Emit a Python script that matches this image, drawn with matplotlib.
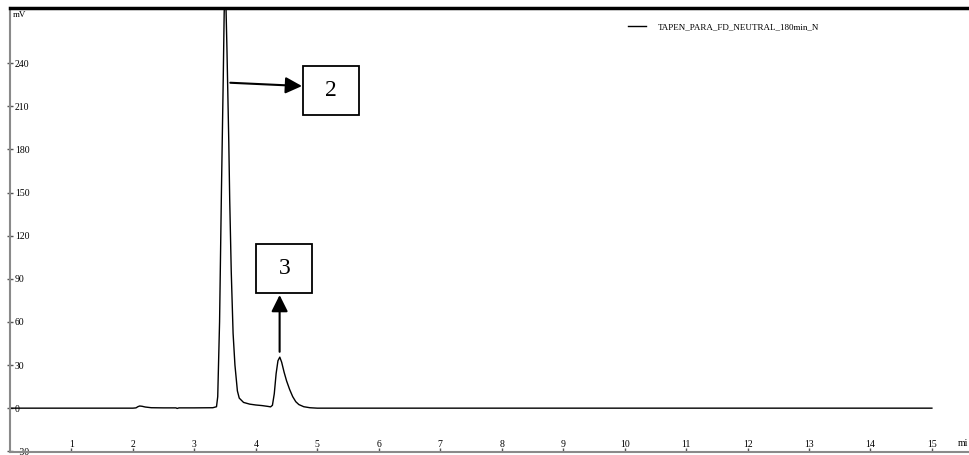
import matplotlib.pyplot as plt
from matplotlib.patches import Rectangle

plt.rcParams['font.family'] = ['Liberation Serif', 'DejaVu Serif']

# chromatogram trace: retention time (min) and detector signal (mV)
t_min = [0.0, 1.0, 2.0, 2.05, 2.08, 2.11, 2.15, 2.20, 2.30, 2.50, 2.70, 2.72, 2.75,
         3.00, 3.30, 3.36, 3.38, 3.41, 3.44, 3.47, 3.485, 3.50, 3.515, 3.53, 3.56,
         3.575, 3.60, 3.63, 3.66, 3.70, 3.73, 3.80, 3.90, 4.00, 4.10, 4.20, 4.24,
         4.27, 4.30, 4.33, 4.36, 4.39, 4.42, 4.46, 4.50, 4.55, 4.60, 4.65, 4.70,
         4.78, 4.88, 5.00, 8.00, 12.00, 15.00]
signal_mv = [0.0, 0.0, 0.0, 0.2, 1.0, 1.5, 1.3, 0.8, 0.3, 0.2, 0.2, -0.2, 0.2,
             0.2, 0.3, 1.0, 8.0, 60.0, 150.0, 230.0, 275.0, 300.0, 278.0, 250.0, 185.0,
             145.0, 95.0, 52.0, 30.0, 12.0, 7.0, 4.0, 2.8, 2.2, 1.8, 1.2, 0.9,
             2.0, 10.0, 24.0, 33.0, 35.5, 32.0, 25.0, 19.0, 13.0, 8.0, 4.5, 2.5,
             1.0, 0.3, 0.0, 0.0, 0.0, 0.0]

series_name = 'TAPEN_PARA_FD_NEUTRAL_180min_N'
x_ticks = list(range(1, 16))
y_ticks = [-30, 0, 30, 60, 90, 120, 150, 180, 210, 240]

fig = plt.figure(figsize=(9.7, 4.55), dpi=100)
ax = fig.add_axes([0.0103, 0.0066, 0.9897, 0.9758])

ax.plot(t_min, signal_mv, color='black', lw=1.0, label=series_name)
ax.set_xlim(0, 15.62)
ax.set_ylim(-30.5, 278.4)

# spines
for side in ['left', 'bottom']:
    ax.spines[side].set_color('#8a8a8a')
    ax.spines[side].set_linewidth(1.5)
ax.spines['right'].set_visible(False)
ax.spines['top'].set_color('black')
ax.spines['top'].set_linewidth(2.5)

ax.set_xticks(x_ticks)
ax.set_yticks(y_ticks)
ax.tick_params(axis='x', direction='in', length=3, width=1, color='#555555',
               pad=-2.2, labelsize=7)
ax.tick_params(axis='y', direction='inout', length=5, width=1, color='#555555',
               pad=-6, labelsize=7)
for lab in ax.get_yticklabels():
    lab.set_horizontalalignment('left')
for lab in ax.get_xticklabels():
    lab.set_verticalalignment('bottom')

ax.text(0.003, 0.984, 'mV', transform=ax.transAxes, fontsize=6.5,
        ha='left', va='center')
ax.text(0.9875, 0.009, 'mi', transform=ax.transAxes, fontsize=7,
        ha='left', va='bottom')

leg = ax.legend(loc='upper left', bbox_to_anchor=(0.635, 0.985), frameon=False,
                fontsize=6.5, handlelength=2.0, handletextpad=1.3)

# peak labels
arrow = dict(arrowstyle='-|>,head_length=0.5,head_width=0.25', color='black',
             lw=1.5, mutation_scale=20, shrinkA=0, shrinkB=0)
ax.annotate('', xy=(4.751, 224.1), xytext=(3.585, 226.4), arrowprops=arrow)
ax.annotate('', xy=(4.387, 78.7), xytext=(4.387, 39.2), arrowprops=arrow)

ax.add_patch(Rectangle((4.772, 203.9), 0.911, 34.1, fill=False,
                       edgecolor='black', lw=1.3))
ax.text(4.772 + 0.911 / 2, 203.9 + 34.1 / 2, '2', ha='center', va='center',
        fontsize=17)
ax.add_patch(Rectangle((4.008, 80.0), 0.911, 34.2, fill=False,
                       edgecolor='black', lw=1.3))
ax.text(4.008 + 0.911 / 2, 80.0 + 34.2 / 2, '3', ha='center', va='center',
        fontsize=17)

fig.savefig('out.png', dpi=100)
